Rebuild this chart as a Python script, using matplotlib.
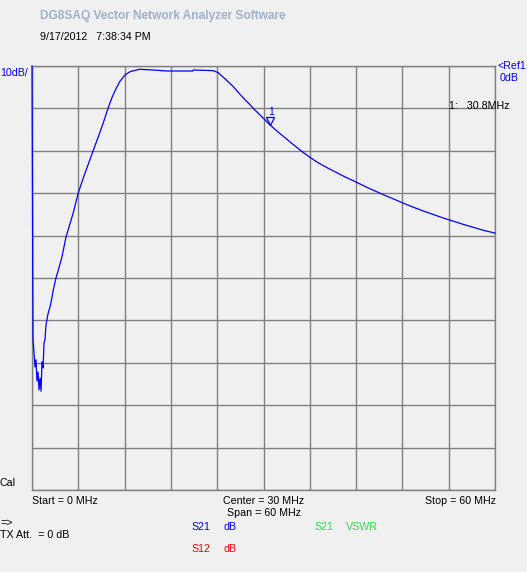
import numpy as np
import matplotlib
matplotlib.use("Agg")
import matplotlib.pyplot as plt
from matplotlib.transforms import ScaledTranslation

# ---- data (S21 magnitude, dB vs MHz) ----
freq_mhz = [0.0, 0.13, 0.26, 0.39, 0.52, 0.65, 0.78, 0.91, 1.04, 1.17, 1.30, 1.43,
            1.56, 1.68, 1.81, 2.07, 2.42, 2.76, 3.11, 3.85, 4.41, 5.35, 6.00, 6.65,
            7.30, 7.94, 8.59, 9.24, 9.81, 10.33, 10.76, 11.40, 12.05, 12.70, 13.90,
            15.64, 17.46, 20.83, 20.90, 23.50, 24.14, 24.80, 25.44, 26.09, 26.53,
            27.04, 27.60, 28.16, 28.68, 29.33, 29.97, 30.84, 31.49, 32.14, 32.79,
            33.43, 34.08, 34.73, 35.38, 36.03, 36.89, 37.75, 38.62, 39.49, 40.34,
            41.21, 42.08, 42.94, 43.80, 44.67, 45.53, 46.39, 48.12, 48.98, 49.85,
            50.71, 51.58, 52.44, 53.30, 54.17, 55.04, 55.89, 57.19, 58.49, 60.0]
s21_db = [0.0, -64.2, -67.5, -71.0, -69.3, -74.3, -72.2, -76.4, -73.6, -76.7, -69.8, -71.2,
          -65.3, -64.6, -61.1, -58.5, -56.2, -52.8, -50.0, -45.3, -40.3, -34.6, -29.9, -26.4,
          -23.1, -19.9, -16.7, -13.4, -10.2, -7.6, -5.8, -3.6, -2.1, -1.34, -0.78,
          -0.94, -1.18, -1.18, -0.94, -1.1, -1.6, -2.67, -3.75, -4.88, -5.8,
          -6.84, -7.95, -8.96, -10.0, -11.16, -12.3, -13.9, -14.94, -15.95, -16.9,
          -17.9, -18.85, -19.8, -20.7, -21.55, -22.6, -23.5, -24.35, -25.15, -25.95,
          -26.7, -27.45, -28.2, -28.95, -29.65, -30.35, -31.0, -32.35, -33.0, -33.6,
          -34.2, -34.75, -35.3, -35.85, -36.35, -36.85, -37.35, -38.05, -38.75, -39.4]
marker_freq = 30.8
ref_db = 0
db_per_div = 10
n_div = 10
start_mhz, stop_mhz = 0, 60

W, H = 527, 572
BG = "#F0F0F0"
fig = plt.figure(figsize=(W / 100, H / 100), dpi=100, facecolor=BG)
plt.rcParams['font.family'] = ['Liberation Sans', 'DejaVu Sans']

L, R, T, B = 32, 495, 66, 490
ax = fig.add_axes([L / W, 1 - B / H, (R - L) / W, (B - T) / H], facecolor=BG)
ax.set_xlim(start_mhz, stop_mhz)
ax.set_ylim(ref_db - n_div * db_per_div, ref_db)
ax.set_xticks(np.linspace(start_mhz, stop_mhz, n_div + 1))
ax.set_yticks(np.linspace(ref_db - n_div * db_per_div, ref_db, n_div + 1))
ax.tick_params(length=0, labelbottom=False, labelleft=False)
ax.grid(True, color="#808080", linewidth=1.0)
for s in ax.spines.values():
    s.set_color("#808080")
    s.set_linewidth(1.0)

ax.plot(freq_mhz, s21_db, color="#0000FF", linewidth=0.9, zorder=5, clip_on=False)

# marker
my = float(np.interp(marker_freq, freq_mhz, s21_db))
off = ax.transData + ScaledTranslation(0, 3.5 / 100, fig.dpi_scale_trans)
ax.plot([marker_freq], [my], marker="v", markersize=6, markerfacecolor="none",
        markeredgecolor="#0000FF", markeredgewidth=0.9, transform=off, zorder=6)
off2 = ax.transData + ScaledTranslation(1 / 100, 13 / 100, fig.dpi_scale_trans)
ax.text(marker_freq, my, "1", color="#0000FF", fontsize=7.5, ha="center", va="center",
        transform=off2, zorder=6)


def px(x, y, s, color="black", ha="left", size=7.7, weight="normal"):
    fig.text(x / W, 1 - y / H, s, color=color, ha=ha, va="center", fontsize=size,
             fontweight=weight)


px(40, 16.5, "DG8SAQ Vector Network Analyzer Software", color="#9DB3CF", size=8.6,
   weight="bold")
px(40, 36.5, "9/17/2012   7:38:34 PM")
px(0, 72.5, "10dB/", color="#0000FF")
px(497, 66, "<Ref1", color="#0000FF")
px(500, 78, "0dB", color="#0000FF")
px(449, 106, "1:   30.8MHz")
px(0, 483, "Cal")
px(32, 500.5, "Start = 0 MHz")
px(264, 500.5, "Center = 30 MHz", ha="center")
px(264, 513.5, "Span = 60 MHz", ha="center")
px(496, 500.5, "Stop = 60 MHz", ha="right")
px(0, 523, "=>")
px(0, 535, "TX Att.  = 0 dB")
px(191.5, 526.5, "S21", color="#0000FF")
px(223.5, 526.5, "dB", color="#0000FF")
px(314.5, 526.5, "S21", color="#30E050")
px(346, 526.5, "VSWR", color="#30E050")
px(191.5, 549, "S12", color="#FF0000")
px(223.5, 549, "dB", color="#FF0000")

fig.savefig("out.png", dpi=100, facecolor=BG)
